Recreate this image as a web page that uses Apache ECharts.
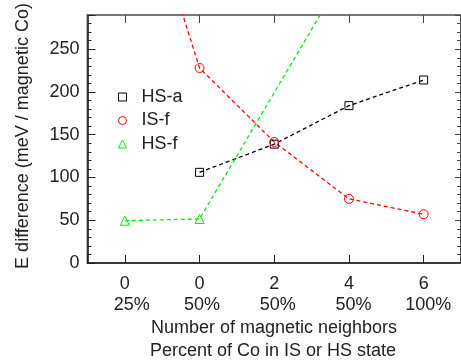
<!DOCTYPE html>
<html>
<head>
<meta charset="utf-8">
<script src="https://cdn.jsdelivr.net/npm/echarts@6/dist/echarts.min.js"></script>
<style>html,body{margin:0;padding:0;background:#fff}#c{width:461px;height:363px}</style>
</head>
<body>
<div id="c"></div>
<script>
var neighbors = ['0', '0', '2', '4', '6'];
var percents = ['25%', '50%', '50%', '50%', '100%'];
var hsA = [null, 106, 139, 184, 214];
var isF = [505, 228, 141.5, 75, 57];
var hsF = [49.5, 51.5, null, 347, null];
var yTicks = [0, 50, 100, 150, 200, 250];

var FONT = '"Liberation Sans", Arial, Helvetica, sans-serif';
var TXT = '#222';
var chart = echarts.init(document.getElementById('c'), null, {renderer: 'canvas'});
var pad = [14, 5, 7, 9, 9];
var rich = {n: {fontSize: 18, fontFamily: FONT, color: TXT, lineHeight: 21}};
for (var i = 0; i < 5; i++) {
  rich['p' + i] = {fontSize: 18, fontFamily: FONT, color: TXT, lineHeight: 21, padding: [0, 0, 0, pad[i]]};
}
function pairs(arr) {
  var out = [];
  arr.forEach(function (v, i) { if (v != null) out.push([i, v]); });
  return out;
}
function xLabel(v) {
  var idx = Math.round(v);
  if (Math.abs(v - idx) > 1e-6 || idx < 0 || idx >= neighbors.length) return '';
  return '{n|' + neighbors[idx] + '}\n{p' + idx + '|' + percents[idx] + '}';
}
var option = {
  animation: false,
  grid: {left: 87.5, top: 15, right: 0, bottom: 100, outerBoundsMode: 'none', containLabel: false,
         show: true, borderColor: '#777', borderWidth: 2, backgroundColor: 'transparent'},
  xAxis: [{
    type: 'value', min: -0.5, max: 4.5, minInterval: 1, maxInterval: 1, splitNumber: 5, position: 'bottom',
    axisLine: {onZero: false, lineStyle: {color: '#222', width: 1.5}},
    axisTick: {inside: true, length: 8, lineStyle: {color: '#222', width: 1}},
    axisLabel: {margin: 11, formatter: xLabel, rich: rich, showMinLabel: true, showMaxLabel: true},
    splitLine: {show: false}
  }, {
    type: 'value', min: -0.5, max: 4.5, minInterval: 1, maxInterval: 1, splitNumber: 5, position: 'top',
    axisLine: {show: true, onZero: false, lineStyle: {color: '#777', width: 2}},
    axisTick: {show: true, inside: true, length: 8, lineStyle: {color: '#444', width: 1}},
    axisLabel: {show: false}, splitLine: {show: false}
  }],
  yAxis: [{
    type: 'value', min: 0, max: 290, interval: 50, position: 'left',
    name: 'E difference (meV / magnetic Co)', nameLocation: 'middle', nameRotate: 90, nameGap: 55,
    nameTextStyle: {fontSize: 18, fontFamily: FONT, color: TXT, padding: [0, 0, 0, 6]},
    axisLine: {show: true, onZero: false, lineStyle: {color: '#222', width: 1.5}},
    axisTick: {show: true, inside: true, length: 8, lineStyle: {color: '#222', width: 1}},
    axisLabel: {margin: 8, fontSize: 18, fontFamily: FONT, color: TXT, formatter: function (v) { return yTicks.indexOf(v) >= 0 ? String(v) : ''; }},
    splitLine: {show: false}
  }, {
    type: 'value', min: 0, max: 290, interval: 10, position: 'left',
    axisLine: {show: false, onZero: false},
    axisTick: {show: true, inside: true, length: 4, lineStyle: {color: '#222', width: 1}},
    axisLabel: {show: false}, splitLine: {show: false}
  }, {
    type: 'value', min: 0, max: 290, interval: 50, position: 'right',
    axisLine: {show: true, onZero: false, lineStyle: {color: '#444', width: 1.5}},
    axisTick: {show: true, inside: true, length: 6, lineStyle: {color: '#444', width: 1}},
    axisLabel: {show: false}, splitLine: {show: false}
  }, {
    type: 'value', min: 0, max: 290, interval: 10, position: 'right',
    axisLine: {show: false, onZero: false},
    axisTick: {show: true, inside: true, length: 4, lineStyle: {color: '#444', width: 1}},
    axisLabel: {show: false}, splitLine: {show: false}
  }],
  legend: {
    orient: 'vertical', left: 113, top: 82, itemWidth: 8, itemHeight: 8, itemGap: 3.5,
    textStyle: {fontSize: 18, fontFamily: FONT, color: TXT, lineHeight: 20, padding: [0, 0, 0, 10]},
    data: [
      {name: 'HS-a', icon: 'rect', itemStyle: {color: 'rgba(0,0,0,0)', borderColor: '#000', borderWidth: 1}},
      {name: 'IS-f', icon: 'circle', itemStyle: {color: 'rgba(0,0,0,0)', borderColor: '#ff0000', borderWidth: 1}},
      {name: 'HS-f', icon: 'triangle', itemStyle: {color: 'rgba(0,0,0,0)', borderColor: '#00ee00', borderWidth: 1}}
    ]
  },
  series: [{
    name: 'HS-a', type: 'line', data: pairs(hsA), symbol: 'rect', symbolSize: 8, clip: true,
    itemStyle: {color: 'rgba(0,0,0,0)', borderColor: '#000', borderWidth: 1},
    lineStyle: {color: '#000', width: 1.3, type: [4, 3]}
  }, {
    name: 'IS-f', type: 'line', data: pairs(isF), symbol: 'circle', symbolSize: 9, clip: true,
    itemStyle: {color: 'rgba(0,0,0,0)', borderColor: '#ff0000', borderWidth: 1},
    lineStyle: {color: '#ff0000', width: 1.3, type: [4, 3]}
  }, {
    name: 'HS-f', type: 'line', data: pairs(hsF), symbol: 'triangle', symbolSize: 9, clip: true,
    itemStyle: {color: 'rgba(0,0,0,0)', borderColor: '#00ee00', borderWidth: 1},
    lineStyle: {color: '#00ee00', width: 1.3, type: [4, 3]}
  }],
  graphic: [
    {type: 'text', x: 274, y: 328, style: {text: 'Number of magnetic neighbors', font: '18px ' + FONT, fill: TXT, textAlign: 'center', textVerticalAlign: 'middle'}},
    {type: 'text', x: 273, y: 351, style: {text: 'Percent of Co in IS or HS state', font: '18px ' + FONT, fill: TXT, textAlign: 'center', textVerticalAlign: 'middle'}}
  ]
};
chart.setOption(option);
</script>
</body>
</html>
